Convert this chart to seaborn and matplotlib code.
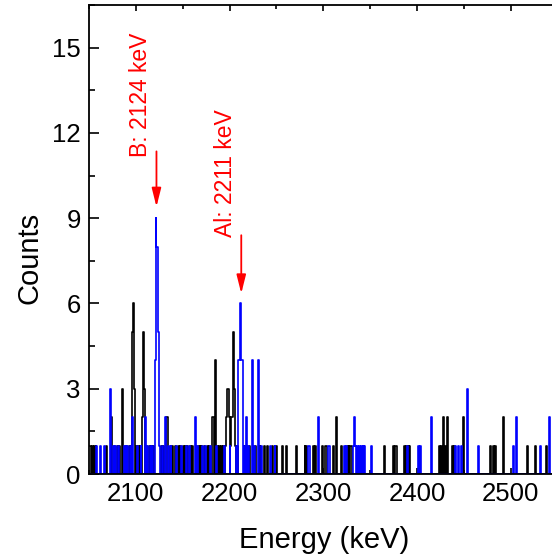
import matplotlib
matplotlib.use('Agg')
import matplotlib.pyplot as plt
import seaborn as sns
from matplotlib.ticker import MultipleLocator
import pandas as pd

# 1 keV bins, only the non-empty ones are listed
black_energy = [2050, 2051, 2053, 2055, 2057, 2068, 2074, 2077, 2080, 2082, 2085, 2088, 2090, 2093,
                2095, 2096, 2097, 2098, 2100, 2102, 2104, 2107, 2108, 2109, 2111, 2114, 2116, 2118,
                2127, 2129, 2132, 2133, 2136, 2139, 2142, 2145, 2147, 2150, 2152, 2155, 2158, 2160,
                2166, 2168, 2170, 2173, 2176, 2178, 2181, 2182, 2184, 2185, 2187, 2189, 2191, 2193,
                2195, 2196, 2197, 2198, 2199, 2201, 2202, 2203, 2204, 2205, 2206, 2208, 2216, 2221,
                2227, 2232, 2237, 2240, 2245, 2250, 2256, 2260, 2271, 2280, 2282, 2289, 2291, 2299,
                2302, 2303, 2310, 2311, 2314, 2319, 2325, 2327, 2329, 2330, 2365, 2374, 2377, 2378,
                2386, 2388, 2390, 2392, 2424, 2426, 2428, 2430, 2432, 2437, 2440, 2449, 2478, 2481,
                2483, 2492, 2517, 2526, 2538]
black_counts = [1, 1, 1, 1, 1, 1, 2, 1, 1, 1, 3, 1, 1, 1,
                1, 5, 6, 3, 1, 1, 1, 2, 5, 3, 1, 1, 1, 1,
                1, 1, 2, 2, 1, 1, 1, 1, 1, 1, 1, 1, 1, 1,
                1, 1, 1, 1, 1, 1, 2, 2, 1, 4, 1, 1, 1, 1,
                1, 2, 3, 3, 2, 1, 2, 2, 5, 3, 1, 1, 1, 1,
                1, 1, 1, 1, 1, 1, 1, 1, 1, 1, 1, 1, 1, 1,
                1, 1, 1, 1, 2, 1, 1, 1, 1, 1, 1, 1, 1, 1,
                1, 1, 1, 1, 1, 1, 2, 1, 2, 1, 1, 2, 1, 1,
                1, 2, 1, 1, 1]

blue_energy = [2058, 2062, 2066, 2072, 2076, 2078, 2081, 2087, 2089, 2091, 2094, 2096, 2101, 2105,
               2110, 2112, 2115, 2117, 2120, 2121, 2122, 2123, 2124, 2125, 2128, 2131, 2134, 2137,
               2143, 2148, 2154, 2157, 2163, 2165, 2171, 2174, 2179, 2186, 2194, 2200, 2207, 2209,
               2210, 2211, 2212, 2213, 2215, 2218, 2220, 2224, 2226, 2230, 2234, 2243, 2248, 2284,
               2285, 2294, 2305, 2306, 2322, 2324, 2332, 2333, 2334, 2336, 2338, 2340, 2342, 2344,
               2351, 2389, 2401, 2403, 2415, 2441, 2444, 2447, 2453, 2465, 2503, 2506, 2531, 2541]
blue_counts = [1, 1, 1, 3, 1, 1, 1, 1, 1, 1, 1, 2, 1, 1,
               2, 1, 1, 1, 4, 9, 8, 8, 5, 1, 1, 2, 1, 1,
               1, 1, 1, 1, 2, 1, 1, 1, 1, 1, 1, 1, 1, 4,
               4, 6, 4, 4, 1, 2, 1, 4, 1, 4, 1, 1, 1, 1,
               1, 2, 1, 1, 1, 1, 1, 2, 1, 1, 1, 1, 1, 1,
               1, 1, 1, 1, 2, 1, 1, 1, 3, 1, 1, 2, 1, 2]

x_ticks = [2100, 2200, 2300, 2400, 2500]
y_ticks = [0, 3, 6, 9, 12, 15]

peak_labels = ['B: 2124 keV', 'Al: 2211 keV']
peak_x = [2122, 2212.5]
arrow_top = [11.35, 8.4]
arrow_tip = [9.4, 6.35]
label_x = [2105, 2196]
label_y = [13.35, 10.6]

sns.set_style('ticks')
plt.rcParams['font.family'] = ['Liberation Sans', 'DejaVu Sans']
plt.rcParams['text.color'] = 'black'
plt.rcParams['axes.labelcolor'] = 'black'
plt.rcParams['xtick.color'] = 'black'
plt.rcParams['ytick.color'] = 'black'

df_black = pd.DataFrame({'energy': [e + 0.5 for e in black_energy], 'counts': black_counts})
df_blue = pd.DataFrame({'energy': [e + 0.5 for e in blue_energy], 'counts': blue_counts})

fig = plt.figure(figsize=(5.52, 5.56), dpi=100)
ax = fig.add_axes([89 / 552, 82 / 556, 468.5 / 552, 469 / 556])

for df, color in [(df_black, 'black'), (df_blue, '#0000ff')]:
    sns.histplot(data=df, x='energy', weights='counts', binwidth=1, binrange=(2050, 2550),
                 element='step', fill=False, color=color, linewidth=1.2, ax=ax)

for lab, px, top, tip, lx, ly in zip(peak_labels, peak_x, arrow_top, arrow_tip, label_x, label_y):
    ax.annotate('', xy=(px, tip), xytext=(px, top),
                arrowprops=dict(arrowstyle='-|>,head_length=0.8,head_width=0.2', color='red',
                                lw=1.3, mutation_scale=14, shrinkA=0, shrinkB=0))
    ax.text(lx, ly, lab, rotation=90, color='red', ha='center', va='center', fontsize=16.5)

ax.set_xlim(2050, 2550)
ax.set_ylim(0, 16.5)
ax.set_xticks(x_ticks)
ax.set_yticks(y_ticks)
ax.xaxis.set_minor_locator(MultipleLocator(50))
ax.yaxis.set_minor_locator(MultipleLocator(1.5))
ax.tick_params(which='both', direction='in', top=True, right=False, labelsize=18.5, width=1.2, pad=6)
ax.tick_params(axis='y', which='major', length=7)
ax.tick_params(axis='y', which='minor', length=4)
ax.tick_params(axis='x', which='major', length=4)
ax.tick_params(axis='x', which='minor', length=3)
for s in ['left', 'top', 'bottom', 'right']:
    ax.spines[s].set_linewidth(1.3)
    ax.spines[s].set_color('black')

ax.set_xlabel('Energy (keV)', fontsize=21)
ax.set_ylabel('Counts', fontsize=21)
ax.xaxis.set_label_coords(0.502, -0.11)
ax.yaxis.set_label_coords(-0.098, 0.46)

fig.savefig('out.png', dpi=100)
